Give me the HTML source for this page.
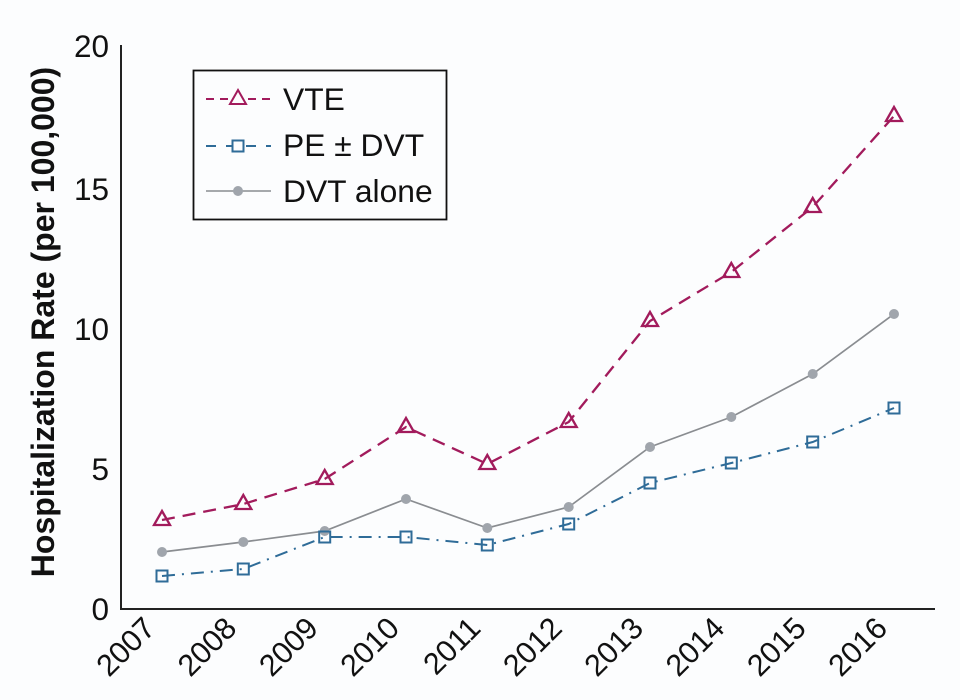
<!DOCTYPE html>
<html><head><meta charset="utf-8"><style>
html,body{margin:0;padding:0;background:#fcfdfe;}
svg{display:block;}
text{font-family:"Liberation Sans",Arial,sans-serif;fill:#111;}
</style></head><body>
<svg width="960" height="700" viewBox="0 0 960 700" xmlns="http://www.w3.org/2000/svg">
<rect width="960" height="700" fill="#fcfdfe"/>
<!-- axes -->
<line x1="121" y1="45" x2="121" y2="609" stroke="#222" stroke-width="2"/>
<line x1="120" y1="609" x2="935" y2="609" stroke="#222" stroke-width="2"/>
<!-- y tick labels -->
<g font-size="31.5" text-anchor="end">
<text x="109" y="620">0</text>
<text x="109" y="480">5</text>
<text x="109" y="340">10</text>
<text x="109" y="200">15</text>
<text x="109" y="57">20</text>
</g>
<!-- y axis title -->
<text transform="translate(54,322) rotate(-90)" text-anchor="middle" font-size="32" font-weight="bold">Hospitalization Rate (per 100,000)</text>
<!-- x tick labels -->
<g font-size="30.5" text-anchor="end">
<text transform="translate(157,630) rotate(-45)">2007</text>
<text transform="translate(238.3,630) rotate(-45)">2008</text>
<text transform="translate(319.7,630) rotate(-45)">2009</text>
<text transform="translate(401,630) rotate(-45)">2010</text>
<text transform="translate(482.3,630) rotate(-45)">2011</text>
<text transform="translate(563.7,630) rotate(-45)">2012</text>
<text transform="translate(645,630) rotate(-45)">2013</text>
<text transform="translate(726.3,630) rotate(-45)">2014</text>
<text transform="translate(807.7,630) rotate(-45)">2015</text>
<text transform="translate(889,630) rotate(-45)">2016</text>
</g>
<!-- DVT alone -->
<polyline fill="none" stroke="#8a8d91" stroke-width="1.7" points="162,552 243.3,542 324.7,531 406,499 487.3,528 568.7,507 650,447 731.3,417 812.7,374 894,314"/>
<g fill="#a0a5ac">
<circle cx="162" cy="552" r="5"/><circle cx="243.3" cy="542" r="5"/><circle cx="324.7" cy="531" r="5"/><circle cx="406" cy="499" r="5"/><circle cx="487.3" cy="528" r="5"/><circle cx="568.7" cy="507" r="5"/><circle cx="650" cy="447" r="5"/><circle cx="731.3" cy="417" r="5"/><circle cx="812.7" cy="374" r="5"/><circle cx="894" cy="314" r="5"/>
</g>
<!-- PE -->
<polyline fill="none" stroke="#2f6c98" stroke-width="2" stroke-dasharray="13 7 2 7" points="162,576 243.3,569 324.7,537 406,537 487.3,545 568.7,524 650,483 731.3,463 812.7,442 894,408"/>
<g fill="none" stroke="#2f6c98" stroke-width="2">
<rect x="156.5" y="570.5" width="11" height="11"/><rect x="237.8" y="563.5" width="11" height="11"/><rect x="319.2" y="531.5" width="11" height="11"/><rect x="400.5" y="531.5" width="11" height="11"/><rect x="481.8" y="539.5" width="11" height="11"/><rect x="563.2" y="518.5" width="11" height="11"/><rect x="644.5" y="477.5" width="11" height="11"/><rect x="725.8" y="457.5" width="11" height="11"/><rect x="807.2" y="436.5" width="11" height="11"/><rect x="888.5" y="402.5" width="11" height="11"/>
</g>
<!-- VTE -->
<polyline fill="none" stroke="#a21b5c" stroke-width="2.3" stroke-dasharray="13 8" points="162,520 243.3,504 324.7,479 406,427 487.3,464 568.7,422 650,321 731.3,272 812.7,207 894,116"/>
<g fill="none" stroke="#a21b5c" stroke-width="2.3" stroke-linejoin="miter">
<path d="M162,511 L170,525 L154,525 Z"/>
<path d="M243.3,495 L251.3,509 L235.3,509 Z"/>
<path d="M324.7,470 L332.7,484 L316.7,484 Z"/>
<path d="M406,418 L414,432 L398,432 Z"/>
<path d="M487.3,455 L495.3,469 L479.3,469 Z"/>
<path d="M568.7,413 L576.7,427 L560.7,427 Z"/>
<path d="M650,312 L658,326 L642,326 Z"/>
<path d="M731.3,263 L739.3,277 L723.3,277 Z"/>
<path d="M812.7,198 L820.7,212 L804.7,212 Z"/>
<path d="M894,107 L902,121 L886,121 Z"/>
</g>
<!-- legend -->
<rect x="193.5" y="70.5" width="253" height="149" fill="none" stroke="#111" stroke-width="1.8"/>
<line x1="206" y1="99" x2="271" y2="99" stroke="#a21b5c" stroke-width="2" stroke-dasharray="8 6"/>
<path d="M238,90 L246,104 L230,104 Z" fill="#fcfdfe" stroke="#a21b5c" stroke-width="2"/>
<line x1="206" y1="146" x2="271" y2="146" stroke="#2f6c98" stroke-width="2" stroke-dasharray="10 10"/>
<rect x="232.5" y="140.5" width="11" height="11" fill="#fcfdfe" stroke="#2f6c98" stroke-width="2"/>
<line x1="206" y1="191" x2="271" y2="191" stroke="#8a8d91" stroke-width="1.6"/>
<circle cx="238" cy="191" r="5" fill="#a0a5ac"/>
<g font-size="31.8">
<text x="283" y="110">VTE</text>
<text x="283" y="156">PE ± DVT</text>
<text x="283" y="202">DVT alone</text>
</g>
</svg>
</body></html>
